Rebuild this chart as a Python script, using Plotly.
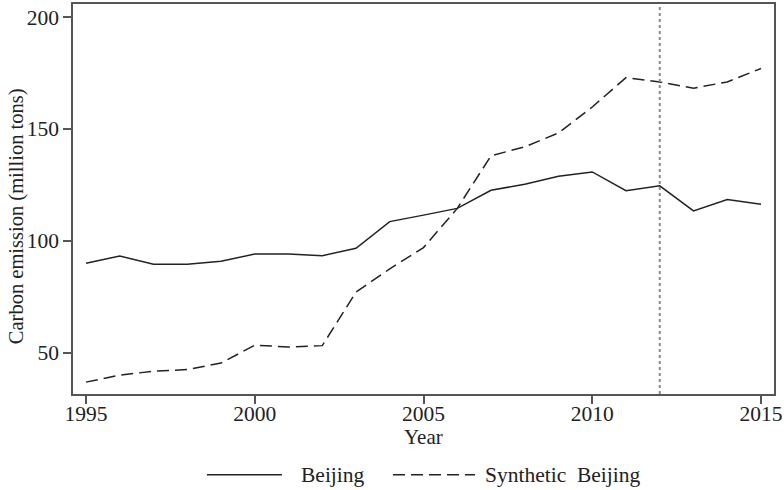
import plotly.graph_objects as go

# Annual carbon emissions, Beijing vs. its synthetic control (million tons)
years = list(range(1995, 2016))
beijing = [90.0, 93.2, 89.6, 89.6, 90.9, 94.1, 94.1, 93.4, 96.7, 108.6, 111.5,
           114.5, 122.6, 125.3, 128.9, 130.8, 122.4, 124.6, 113.4, 118.5, 116.4]
synthetic = [36.9, 40.0, 41.8, 42.5, 45.4, 53.4, 52.6, 53.2, 77.1, 87.5, 97.0,
             114.5, 138.0, 142.0, 148.2, 159.8, 172.9, 171.0, 168.2, 171.0, 177.0]
series_names = ["Beijing", "Synthetic  Beijing"]
policy_year = 2012
x_ticks = [1995, 2000, 2005, 2010, 2015]
y_ticks = [50, 100, 150, 200]

FONT = "Liberation Serif"
INK = "#222222"
dash_style = "12px,6px"

fig = go.Figure()
fig.add_trace(go.Scatter(x=years, y=beijing, mode="lines", name=series_names[0],
                         line=dict(color=INK, width=1.5), showlegend=False))
fig.add_trace(go.Scatter(x=years, y=synthetic, mode="lines", name=series_names[1],
                         line=dict(color=INK, width=1.5, dash=dash_style),
                         showlegend=False))

# treatment year marker
fig.add_shape(type="line", x0=policy_year, x1=policy_year, y0=0, y1=1,
              xref="x", yref="paper",
              line=dict(color="#8a8a8a", width=2, dash="dot"))

# legend drawn below the axis title
leg_y = -0.207
legend_items = [
    (series_names[0], "solid", 0.191, 0.298, 0.322),
    (series_names[1], dash_style, 0.4565, 0.5735, 0.585),
]
for name, dash, x0, x1, xt in legend_items:
    fig.add_shape(type="line", xref="paper", yref="paper", x0=x0, x1=x1,
                  y0=leg_y, y1=leg_y, line=dict(color=INK, width=1.5, dash=dash))
    fig.add_annotation(xref="paper", yref="paper", x=xt, y=leg_y, text=name,
                       showarrow=False, xanchor="left", yanchor="middle",
                       font=dict(family=FONT, size=21.5, color=INK))

# axis titles
fig.add_annotation(xref="paper", yref="paper", x=0.5, y=-0.109, text="Year",
                   showarrow=False, xanchor="center", yanchor="middle",
                   font=dict(family=FONT, size=21, color=INK))
fig.add_annotation(xref="paper", yref="paper", x=-0.0813, y=0.456,
                   text="Carbon emission (million tons)", textangle=-90,
                   showarrow=False, xanchor="center", yanchor="middle",
                   font=dict(family=FONT, size=20.5, color=INK))

axis_common = dict(
    showline=True, linecolor="#555555", linewidth=1.5, mirror=True,
    ticks="outside", ticklen=8, tickwidth=1.5, tickcolor="#555555",
    showgrid=False, zeroline=False, automargin=False,
    tickfont=dict(family=FONT, size=21.5, color=INK),
)

fig.update_layout(
    width=784, height=490,
    margin=dict(l=73, r=10, t=4, b=96),
    paper_bgcolor="white", plot_bgcolor="white",
    xaxis=dict(range=[1994.615, 2015.385], tickvals=x_ticks,
               ticklabelstandoff=-9, **axis_common),
    yaxis=dict(range=[31.6, 205.8], tickvals=y_ticks, **axis_common),
)

fig.write_html("out.html")
